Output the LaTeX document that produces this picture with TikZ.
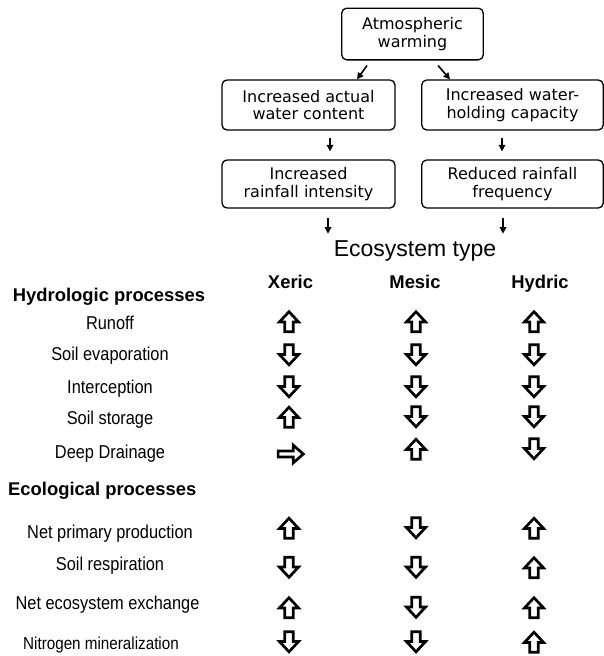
\documentclass[tikz,border=0pt]{standalone}
\usepackage{fontspec}
\setmainfont{Liberation Sans}
\newfontfamily\boxfont{DejaVu Sans}
\newfontfamily\narrowfont{Liberation Sans}[FakeStretch=0.88]
\usetikzlibrary{calc,arrows.meta}
\begin{document}
\begin{tikzpicture}[x=1pt,y=-1pt,
  box/.style={draw, rounded corners=5pt, line width=1.3pt, align=center,
    font=\boxfont\fontsize{16}{17.8}\selectfont, inner sep=0pt},
  conn/.style={-{Triangle[length=6.5pt,width=6.5pt]}, line width=1.6pt},
  blk/.style={draw, fill=white, line width=2.7pt, line join=miter},
  rowlab/.style={anchor=base, font=\narrowfont\fontsize{18.6}{20}\selectfont, inner sep=0pt},
  grouphead/.style={anchor=base west, font=\bfseries\fontsize{18.4}{20}\selectfont, inner sep=0pt},
  colhead/.style={anchor=base, font=\bfseries\fontsize{18.4}{20}\selectfont, inner sep=0pt},
  upa/.pic={\draw[blk] (0,-9.8) -- (9.6,0.5) -- (4.2,0.5) -- (4.2,10.2) -- (-4.2,10.2) -- (-4.2,0.5) -- (-9.6,0.5) -- cycle;},
  downa/.pic={\draw[blk] (0,9.8) -- (9.6,-0.5) -- (4.2,-0.5) -- (4.2,-10.2) -- (-4.2,-10.2) -- (-4.2,-0.5) -- (-9.6,-0.5) -- cycle;},
  righta/.pic={\draw[blk] (12.3,0) -- (2.3,-8.8) -- (2.3,-3) -- (-12.9,-3) -- (-12.9,3) -- (2.3,3) -- (2.3,8.8) -- cycle;}
]
\fill[white] (0,0) rectangle (604,656);
\useasboundingbox (0,0) rectangle (604,656);

% flow boxes
\node[box, minimum width=141.6pt, minimum height=51.7pt] (b1) at (412.5,34) {Atmospheric\\warming};
\node[box, minimum width=173pt, minimum height=50pt] (b2l) at (308.5,105) {Increased actual\\water content};
\node[box, minimum width=181.5pt, minimum height=50pt] (b2r) at (512.5,105) {Increased water-\\holding capacity};
\node[box, minimum width=173pt, minimum height=48pt] (b3l) at (308.5,184) {Increased\\rainfall intensity};
\node[box, minimum width=181.5pt, minimum height=48pt] (b3r) at (512.5,184) {Reduced rainfall\\frequency};

% connectors
\draw[conn] ($(b1.south)+(-45.5,5)$) -- ($(b2l.north)+(48.5,0)$);
\draw[conn] ($(b1.south)+(25.5,5)$) -- ($(b2r.north)+(-62.5,0)$);
\draw[conn] ($(b2l.south)+(21.5,7)$) -- ($(b3l.north)+(21.5,-8)$);
\draw[conn] ($(b2r.south)+(-10.5,7)$) -- ($(b3r.north)+(-10.5,-8)$);
\coordinate (e1) at ($(b3l.south)+(19.5,25)$);
\coordinate (e2) at ($(b3r.south)+(-9.5,25)$);
\draw[conn] ($(b3l.south)+(19.5,9)$) -- (e1);
\draw[conn] ($(b3r.south)+(-9.5,9)$) -- (e2);

% headings
\node[anchor=base, font=\fontsize{23}{26}\selectfont, inner sep=0pt] (eco) at (415,256.7) {Ecosystem type};
\node[colhead] (xer) at (290.5,288.3) {Xeric};
\node[colhead] (mes) at (415,288.3) {Mesic};
\node[colhead] (hyd) at (540,288.3) {Hydric};
\node[grouphead] (hydro) at (12.7,301.7) {Hydrologic processes};
\node[grouphead] (ecol) at (8,495) {Ecological processes};

% row labels
\node[rowlab] (r1) at (110,329.5) {Runoff};
\node[rowlab] (r2) at (110,360.5) {Soil evaporation};
\node[rowlab] (r3) at (110,393.5) {Interception};
\node[rowlab] (r4) at (110,424.5) {Soil storage};
\node[rowlab] (r5) at (110,458.5) {Deep Drainage};
\node[rowlab] (r6) at (110,538.5) {Net primary production};
\node[rowlab] (r7) at (110,570.5) {Soil respiration};
\node[rowlab] (r8) at (107.5,609.5) {Net ecosystem exchange};
\node[rowlab, font=\narrowfont\fontsize{17.3}{19}\selectfont] (r9) at (101,649.5) {Nitrogen mineralization};

% Xeric
\pic at (289,321.5) {upa};
\pic at (289,355) {downa};
\pic at (289,387) {downa};
\pic at (289,417) {upa};
\pic at (291,454) {righta};
\pic at (289,528) {upa};
\pic at (289,567.5) {downa};
\pic at (289,607.5) {upa};
\pic at (289,642) {downa};
% Mesic
\pic at (416,321.5) {upa};
\pic at (416,355) {downa};
\pic at (416,387) {downa};
\pic at (416,417) {downa};
\pic at (416,449) {upa};
\pic at (416,528) {downa};
\pic at (416,567.5) {downa};
\pic at (416,607.5) {downa};
\pic at (416,642) {downa};
% Hydric
\pic at (534,321.5) {upa};
\pic at (534,355) {downa};
\pic at (534,387) {downa};
\pic at (534,417) {downa};
\pic at (534,449) {downa};
\pic at (534,528) {upa};
\pic at (534,567.5) {upa};
\pic at (534,607.5) {upa};
\pic at (534,642) {upa};
\end{tikzpicture}
\end{document}
